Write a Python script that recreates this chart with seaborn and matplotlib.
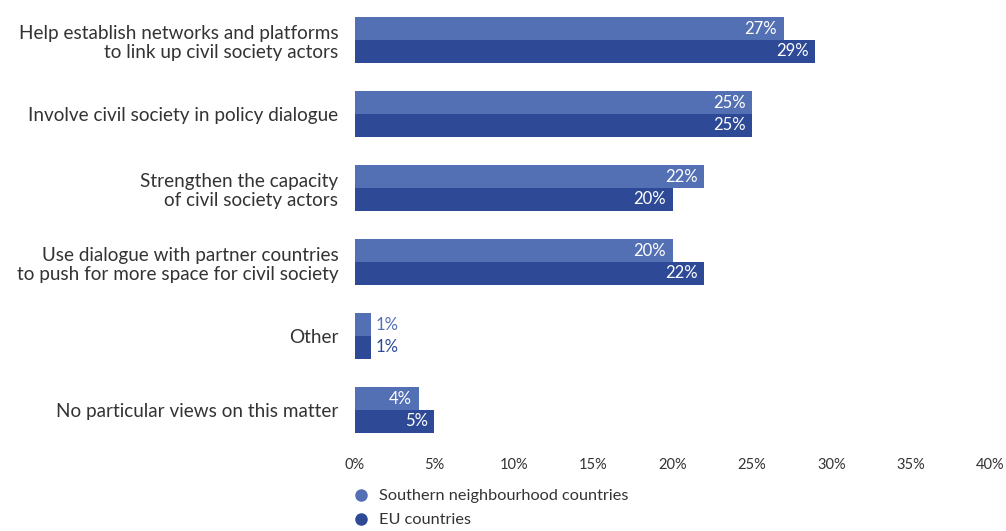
import pandas as pd
import matplotlib.pyplot as plt
import seaborn as sns
from matplotlib.lines import Line2D

# data
categories = [
    "Help establish networks and platforms\nto link up civil society actors",
    "Involve civil society in policy dialogue",
    "Strengthen the capacity\nof civil society actors",
    "Use dialogue with partner countries\nto push for more space for civil society",
    "Other",
    "No particular views on this matter",
]
series_names = ["Southern neighbourhood countries", "EU countries"]
southern = [27, 25, 22, 20, 1, 4]
eu = [29, 25, 20, 22, 1, 5]
xticks = [0, 5, 10, 15, 20, 25, 30, 35, 40]

colors = ["#5470b4", "#2e4a97"]

df = pd.DataFrame({
    "category": categories * 2,
    "group": [series_names[0]] * len(categories) + [series_names[1]] * len(categories),
    "value": southern + eu,
})

sns.set_style("white")
plt.rcParams["font.family"] = ["Lato", "DejaVu Sans"]

fig = plt.figure(figsize=(10.06, 5.31), dpi=100)
ax = fig.add_axes([355 / 1006, 84 / 531, 635 / 1006, 444 / 531])

sns.barplot(data=df, x="value", y="category", hue="group", orient="h",
            palette=colors, width=0.62, ax=ax, legend=False, saturation=1,
            linewidth=0, edgecolor="none")

# value labels
for cont, col in zip(ax.containers, colors):
    for bar in cont:
        w = bar.get_width()
        yc = bar.get_y() + bar.get_height() / 2
        if w >= 3:
            ax.text(w - 0.4, yc, f"{w:.0f}%", ha="right", va="center",
                    color="white", fontsize=12)
        else:
            ax.text(w + 0.3, yc, f"{w:.0f}%", ha="left", va="center",
                    color=col, fontsize=12)

ax.set_xlim(0, 40)
ax.set_ylim(5.5, -0.5)
ax.set_xticks(xticks)
ax.set_xticklabels([f"{t}%" for t in xticks], fontsize=10.5, color="#333333")
ax.tick_params(axis="x", length=0, pad=8)
ax.tick_params(axis="y", length=0, pad=12, labelsize=13.6, labelcolor="#333333")
for lbl in ax.get_yticklabels():
    lbl.set_horizontalalignment("right")
    lbl.set_multialignment("right")
ax.set_xlabel("")
ax.set_ylabel("")
sns.despine(ax=ax, left=True, bottom=True)

handles = [Line2D([], [], marker="o", linestyle="", markersize=8, color=c) for c in colors]
fig.legend(handles, series_names, loc="upper left", bbox_to_anchor=(345 / 1006, 1 - 489 / 531),
           frameon=False, fontsize=11.7, handletextpad=0.1, labelspacing=0.6,
           labelcolor="#333333", borderaxespad=0, borderpad=0)

plt.savefig("out.png", dpi=100)
